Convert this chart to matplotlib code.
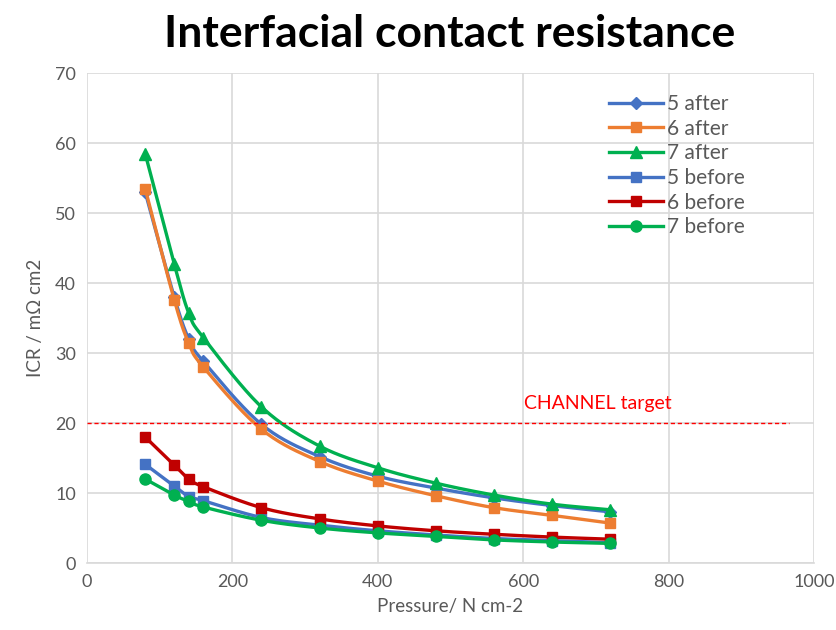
import numpy as np
import matplotlib
matplotlib.use("Agg")
import matplotlib.pyplot as plt

plt.rcParams["font.family"] = ["Lato", "DejaVu Sans"]

# Pressure (N cm-2)
pressure = [80, 120, 140, 160, 240, 320, 400, 480, 560, 640, 720]

# ICR values (mOhm cm2)
after_5 = [53.0, 38.0, 32.0, 28.8, 19.8, 15.2, 12.4, 10.7, 9.3, 8.2, 7.3]
after_6 = [53.5, 37.6, 31.4, 28.0, 19.1, 14.5, 11.7, 9.6, 7.9, 6.8, 5.7]
after_7 = [58.5, 42.7, 35.7, 32.2, 22.3, 16.7, 13.6, 11.4, 9.7, 8.4, 7.6]
before_5 = [14.1, 11.0, 9.5, 8.9, 6.5, 5.4, 4.6, 4.0, 3.5, 3.2, 2.9]
before_6 = [18.0, 14.0, 12.0, 10.9, 7.9, 6.3, 5.3, 4.6, 4.1, 3.7, 3.4]
before_7 = [12.0, 9.7, 8.8, 8.0, 6.1, 5.0, 4.3, 3.8, 3.3, 3.0, 2.8]

target = 20

series = [
    ("5 after", after_5, "#4472C4", "D", 6),
    ("6 after", after_6, "#ED7D31", "s", 7.5),
    ("7 after", after_7, "#00B050", "^", 8),
    ("5 before", before_5, "#4472C4", "s", 7),
    ("6 before", before_6, "#C00000", "s", 7),
    ("7 before", before_7, "#00B050", "o", 8),
]


def smooth(x, y, n=20):
    # Catmull-Rom curve through the points, like Excel's smoothed line
    x = np.asarray(x, float)
    y = np.asarray(y, float)
    px = np.concatenate([[2 * x[0] - x[1]], x, [2 * x[-1] - x[-2]]])
    py = np.concatenate([[2 * y[0] - y[1]], y, [2 * y[-1] - y[-2]]])
    xs, ys = [], []
    t = np.linspace(0, 1, n, endpoint=False)
    for i in range(1, len(px) - 2):
        for p, out in ((px, xs), (py, ys)):
            p0, p1, p2, p3 = p[i - 1], p[i], p[i + 1], p[i + 2]
            out.extend(0.5 * (2 * p1 + (-p0 + p2) * t
                              + (2 * p0 - 5 * p1 + 4 * p2 - p3) * t ** 2
                              + (-p0 + 3 * p1 - 3 * p2 + p3) * t ** 3))
    xs.append(x[-1])
    ys.append(y[-1])
    return xs, ys


fig = plt.figure(figsize=(8.36, 6.3), dpi=100)
ax = fig.add_axes([87 / 836, 67 / 630, 727 / 836, 490 / 630])

for label, vals, color, marker, ms in series:
    sx, sy = smooth(pressure, vals)
    ax.plot(sx, sy, color=color, lw=2.4, solid_capstyle="round")
    ax.plot(pressure, vals, linestyle="none", marker=marker, ms=ms,
            color=color)
    ax.plot([], [], color=color, lw=2.4, marker=marker, ms=ms, label=label)

ax.plot([0, 965], [target, target], color="#ff0000", lw=1.0, ls=(0, (3, 2)))
ax.text(703, 21.6, "CHANNEL target", color="#ff0000", fontsize=14,
        ha="center", va="bottom")

ax.set_xlim(0, 1000)
ax.set_ylim(0, 70)
ax.set_xticks(range(0, 1001, 200))
ax.set_yticks(range(0, 71, 10))
ax.grid(True, color="#d9d9d9", lw=1.2)
ax.set_axisbelow(True)
for side in ["top", "right", "left"]:
    ax.spines[side].set_visible(False)
ax.spines["bottom"].set_color("#d9d9d9")
ax.spines["bottom"].set_linewidth(1.2)
ax.tick_params(length=0, labelsize=13, colors="#595959", pad=8)

ax.set_xlabel("Pressure/ N cm-2", fontsize=13.5, color="#595959", labelpad=6)
ax.set_ylabel("ICR / m\u03a9 cm2", fontsize=13.5, color="#595959", labelpad=8)
fig.suptitle("Interfacial contact resistance", fontsize=32,
             fontweight="bold", x=0.538, y=0.978)

ax.legend(loc="upper right", bbox_to_anchor=(0.93, 0.995), frameon=False,
          fontsize=15, labelcolor="#595959", handlelength=2.6,
          handletextpad=0.15, labelspacing=0.22)

fig.savefig("out.png", dpi=100)
